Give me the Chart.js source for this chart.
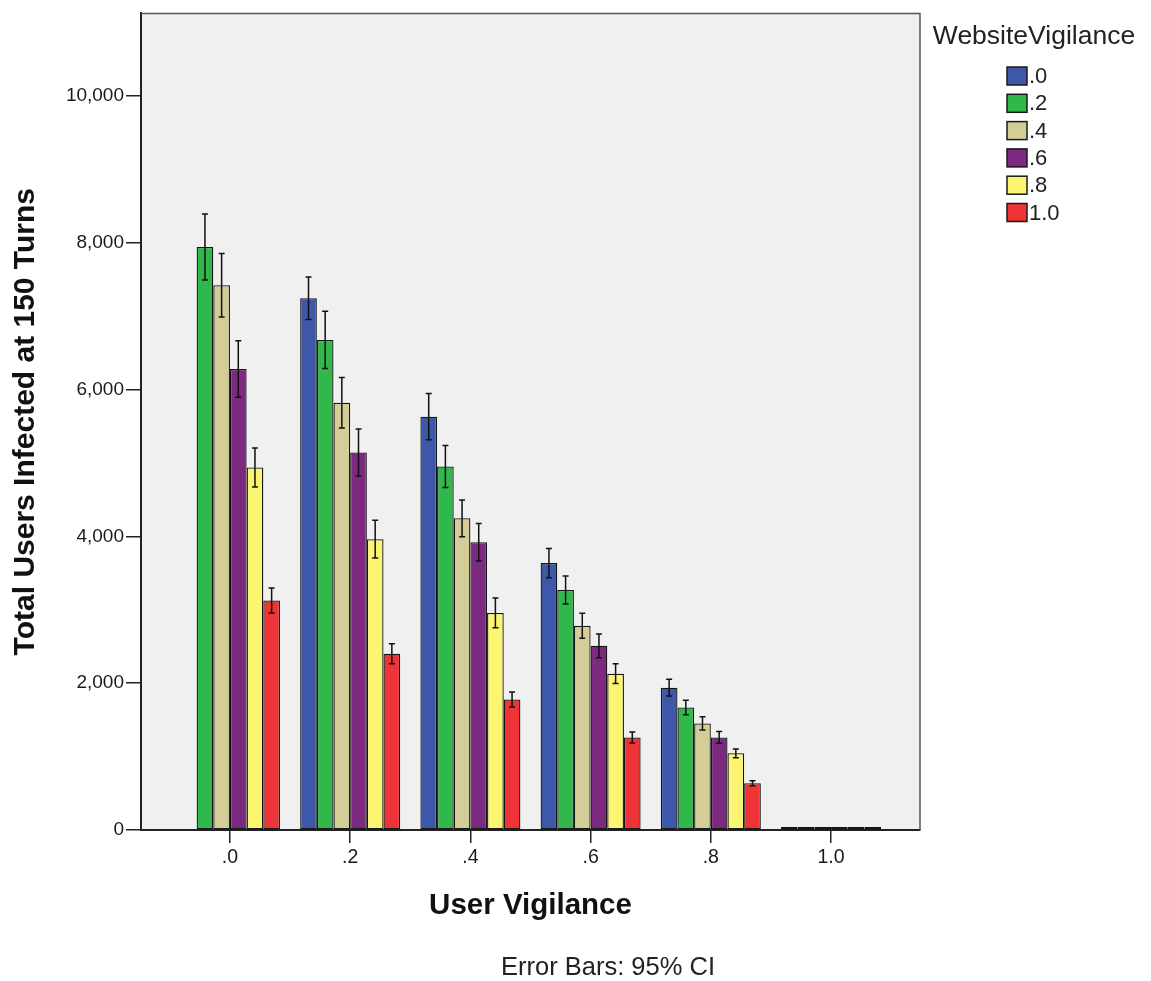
<!DOCTYPE html>
<html>
<head>
<meta charset="utf-8">
<script src="https://cdn.jsdelivr.net/npm/chart.js@4.4.1/dist/chart.umd.min.js"></script>
<style>
  html, body { margin: 0; padding: 0; background: #fff; }
  #wrap { width: 1151px; height: 981px; }
</style>
</head>
<body>
<div id="wrap"><canvas id="c" width="1151" height="981"></canvas></div>
<script>
// user vigilance groups (x axis) and website vigilance levels (series)
const userVigilance = ['.0', '.2', '.4', '.6', '.8', '1.0'];
const userVigilanceX = [0, 0.2, 0.4, 0.6, 0.8, 1.0];
const websiteVigilance = ['.0', '.2', '.4', '.6', '.8', '1.0'];
const seriesColors = ['#3d58a8', '#31b84b', '#d4cd97', '#7c2a7f', '#fbf572', '#ef3437'];
const yTicks = [0, 2000, 4000, 6000, 8000, 10000];

// mean infected users per website vigilance level
const wv00 = [null, 7246, 5632, 3637, 1940, 40];
const wv02 = [7945, 6677, 4953, 3270, 1669, 40];
const wv04 = [7423, 5822, 4247, 2782, 1452, 40];
const wv06 = [6283, 5143, 3922, 2510, 1262, 40];
const wv08 = [4940, 3962, 2958, 2130, 1045, 40];
const wv10 = [3128, 2402, 1778, 1262, 638, 40];

// 95% CI half widths
const ci00 = [null, 290, 315, 200, 115, 0];
const ci02 = [450, 390, 285, 190, 100, 0];
const ci04 = [434, 345, 250, 170, 90, 0];
const ci06 = [385, 320, 255, 162, 80, 0];
const ci08 = [265, 257, 203, 135, 60, 0];
const ci10 = [170, 136, 102, 75, 34, 0];

const means = [wv00, wv02, wv04, wv06, wv08, wv10];
const cis = [ci00, ci02, ci04, ci06, ci08, ci10];

const FONT = "'Liberation Sans', Arial, sans-serif";

const datasets = means.map((vals, k) => ({
  label: websiteVigilance[k],
  data: userVigilanceX.map((x, i) => ({ x: x, y: vals[i] })),
  backgroundColor: seriesColors[k],
  borderColor: '#151515',
  borderWidth: 1.3,
  borderSkipped: false,
  categoryPercentage: 0.832,
  barPercentage: 1.0
}));

const plotFrame = {
  id: 'plotFrame',
  beforeDraw(chart) {
    const a = chart.chartArea, ctx = chart.ctx;
    ctx.save();
    ctx.fillStyle = '#f0f0f0';
    ctx.fillRect(a.left, a.top, a.right - a.left, a.bottom - a.top);
    ctx.restore();
  },
  afterDraw(chart) {
    const a = chart.chartArea, ctx = chart.ctx;
    ctx.save();
    ctx.strokeStyle = '#555';
    ctx.lineWidth = 1.5;
    ctx.beginPath();
    ctx.moveTo(a.left, a.top);
    ctx.lineTo(a.right, a.top);
    ctx.lineTo(a.right, a.bottom);
    ctx.stroke();
    ctx.restore();
  }
};

const errorBars = {
  id: 'errorBars',
  afterDatasetsDraw(chart) {
    const ctx = chart.ctx, y = chart.scales.y;
    ctx.save();
    ctx.strokeStyle = '#111';
    ctx.lineWidth = 1.5;
    chart.data.datasets.forEach((ds, k) => {
      const meta = chart.getDatasetMeta(k);
      meta.data.forEach((bar, i) => {
        const m = means[k][i], c = cis[k][i];
        if (m == null || !c) return;
        const top = y.getPixelForValue(m + c), bot = y.getPixelForValue(m - c);
        ctx.beginPath();
        ctx.moveTo(bar.x, top); ctx.lineTo(bar.x, bot);
        ctx.moveTo(bar.x - 3, top); ctx.lineTo(bar.x + 3, top);
        ctx.moveTo(bar.x - 3, bot); ctx.lineTo(bar.x + 3, bot);
        ctx.stroke();
      });
    });
    ctx.restore();
  }
};

const sideLegend = {
  id: 'sideLegend',
  afterDraw(chart) {
    const ctx = chart.ctx;
    ctx.save();
    ctx.fillStyle = '#222';
    ctx.font = '26.5px ' + FONT;
    ctx.textAlign = 'center';
    ctx.textBaseline = 'middle';
    ctx.fillText('WebsiteVigilance', 1034, 37);
    ctx.textAlign = 'left';
    ctx.font = '22px ' + FONT;
    websiteVigilance.forEach((lab, k) => {
      const top = 67 + k * 27.3;
      ctx.fillStyle = seriesColors[k];
      ctx.fillRect(1007, top, 20, 18);
      ctx.strokeStyle = '#1a1a1a';
      ctx.lineWidth = 1.5;
      ctx.strokeRect(1007, top, 20, 18);
      ctx.fillStyle = '#222';
      ctx.fillText(lab, 1029, top + 10);
    });
    ctx.font = '25.5px ' + FONT;
    ctx.textAlign = 'center';
    ctx.fillText('Error Bars: 95% CI', 608, 968);
    ctx.restore();
  }
};

new Chart(document.getElementById('c'), {
  type: 'bar',
  data: { datasets: datasets },
  options: {
    responsive: false,
    animation: false,
    layout: { padding: { left: 0, right: 231, top: 10, bottom: 51 } },
    plugins: { legend: { display: false }, tooltip: { enabled: false } },
    scales: {
      x: {
        type: 'linear',
        offset: false,
        min: -0.148,
        max: 1.148,
        afterFit(scale) { scale.height = 100; },
        afterBuildTicks(scale) { scale.ticks = userVigilanceX.map(v => ({ value: v })); },
        ticks: {
          padding: 3,
          color: '#1a1a1a',
          font: { family: FONT, size: 19.5 },
          callback: (v) => userVigilance[userVigilanceX.findIndex(u => Math.abs(u - v) < 1e-6)]
        },
        grid: { offset: false, drawOnChartArea: false, tickLength: 13, color: '#222', lineWidth: 1.5 },
        border: { color: '#222', width: 2 },
        title: {
          display: true, text: 'User Vigilance', color: '#111',
          font: { family: FONT, size: 29.5, weight: 'bold' },
          padding: { top: 0, bottom: 6 }
        }
      },
      y: {
        min: 0,
        max: 11127,
        afterFit(scale) { scale.width = 141; },
        afterBuildTicks(scale) { scale.ticks = yTicks.map(v => ({ value: v })); },
        ticks: {
          padding: 2,
          color: '#1a1a1a',
          font: { family: FONT, size: 19 },
          callback: (v) => v.toLocaleString('en-US')
        },
        grid: { drawOnChartArea: false, tickLength: 15, color: '#222', lineWidth: 1.5 },
        border: { color: '#222', width: 2 },
        title: {
          display: true, text: 'Total Users Infected at 150 Turns', color: '#111',
          font: { family: FONT, size: 30, weight: 'bold' },
          padding: { top: 8, bottom: 0 }
        }
      }
    }
  },
  plugins: [plotFrame, errorBars, sideLegend]
});
</script>
</body>
</html>
